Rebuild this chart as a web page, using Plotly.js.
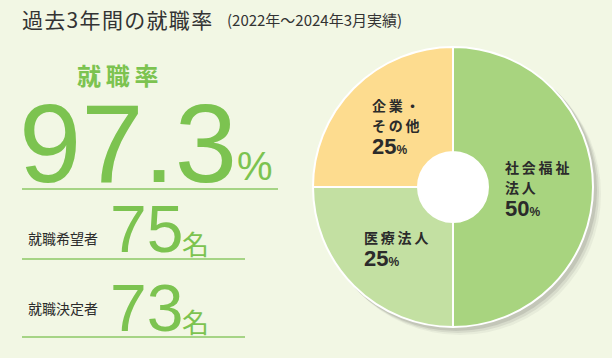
<!DOCTYPE html>
<html><head><meta charset="utf-8">
<script src="https://cdn.plot.ly/plotly-3.0.1.min.js"></script>
<style>html,body{margin:0;padding:0;background:#f2f7e4;}#c{width:612px;height:358px;}</style>
</head><body><div id="c"></div>
<script>
// ---- data ----
const sectorLabels = ['社会福祉法人', '医療法人', '企業・その他'];
const sectorValues = [50, 25, 25];
const sectorLabelLines = [['社会福祉', '法人'], ['医療法人'], ['企業・', 'その他']];
const sectorColors = ['#a8d47f', '#c3e0a2', '#fddc8f'];
const employmentRate = 97.3;
const applicants = 75;
const hired = 73;
const rowLabels = ['就職希望者', '就職決定者'];
const rowValues = [applicants, hired];
const titleText = '過去3年間の就職率';
const subtitleText = '(2022年〜2024年3月実績)';
const rateLabel = '就職率';

// ---- helpers (pixel -> paper) ----
const W = 612, H = 358;
const px = x => x / W;
const py = y => 1 - y / H;
const spaced = (s, sp) => Array.from(s).join(sp || '\u2009');

const cx = 453, cy = 187, R = 140, holeR = 35;
const JP = '"Noto Sans CJK JP", "Noto Sans", sans-serif';
const NUM = '"Liberation Sans", Arial, sans-serif';
const GREEN = '#7cc350';
const DARK = '#2b2b2b';

const shapes = [];
// shadow
[[7, 0.06], [5, 0.09], [3, 0.13]].forEach(([o, a]) => {
  shapes.push({type: 'circle', xref: 'paper', yref: 'paper', layer: 'below',
    x0: px(cx - R + o - 1), x1: px(cx + R + o + 1), y0: py(cy + R + o + 1), y1: py(cy - R + o - 1),
    fillcolor: 'rgba(60,60,60,' + a + ')', line: {width: 0}});
});
// hole
shapes.push({type: 'circle', xref: 'paper', yref: 'paper', layer: 'above',
  x0: px(cx - holeR), x1: px(cx + holeR), y0: py(cy + holeR), y1: py(cy - holeR),
  fillcolor: '#ffffff', line: {width: 0}});
// underline rules
[[22, 278, 189], [22, 245, 259], [22, 245, 337]].forEach(([a, b, y]) => {
  shapes.push({type: 'line', xref: 'paper', yref: 'paper', x0: px(a), x1: px(b), y0: py(y), y1: py(y),
    line: {color: '#8dc866', width: 1.5}});
});

const ann = [];
function A(text, x, y, size, color, opts) {
  ann.push(Object.assign({text: text, x: px(x), y: py(y), xref: 'paper', yref: 'paper',
    showarrow: false, xanchor: 'left', yanchor: 'middle',
    font: {family: JP, size: size, color: color}}, opts || {}));
}
// title
A(spaced(titleText, '\u200A'), 20, 19, 21, '#333333');
A(subtitleText, 225, 19, 15, '#333333');
// big rate
A('<b>' + spaced(rateLabel) + '</b>', 75, 74, 24, GREEN);
A(String(employmentRate), 17, 143, 112, GREEN, {height: 96, font: {family: NUM, size: 112, color: GREEN}});
A('%', 235, 166, 40, GREEN, {font: {family: NUM, size: 40, color: GREEN}});
// rows
rowLabels.forEach((lab, i) => {
  const yy = [238, 308][i];
  A(lab, 26, yy, 14, DARK);
  A(String(rowValues[i]), 108, [229, 308][i], 66, GREEN, {height: 58, font: {family: NUM, size: 66, color: GREEN}});
  A('名', 180, [243, 321][i], 27, GREEN);
});
// pie labels
const labelPos = [[504, 167], [363, 237], [371, 105]];
sectorLabels.forEach((s, i) => {
  const lines = sectorLabelLines[i];
  const [x, y0] = labelPos[i];
  lines.forEach((ln, j) => {
    A('<b>' + spaced(ln) + '</b>', x - 1, y0 + j * 20, 14, DARK);
  });
  A('<b>' + sectorValues[i] + '<span style="font-size:12px">%</span></b>', x - 1, y0 + lines.length * 20 + 1, 22, DARK,
    {font: {family: NUM, size: 22, color: DARK}});
});

const data = [{
  type: 'pie', labels: sectorLabels, values: sectorValues, sort: false, direction: 'clockwise', rotation: 0,
  hole: 0.25, textinfo: 'none', hoverinfo: 'label+percent',
  marker: {colors: sectorColors, line: {color: '#ffffff', width: 2}},
  domain: {x: [px(cx - R), px(cx + R)], y: [py(cy + R), py(cy - R)]}
}];
const layout = {
  width: W, height: H, margin: {l: 0, r: 0, t: 0, b: 0},
  paper_bgcolor: '#f2f7e4', plot_bgcolor: '#f2f7e4', showlegend: false,
  shapes: shapes, annotations: ann
};
Plotly.newPlot('c', data, layout, {displayModeBar: false, staticPlot: true});
</script></body></html>
